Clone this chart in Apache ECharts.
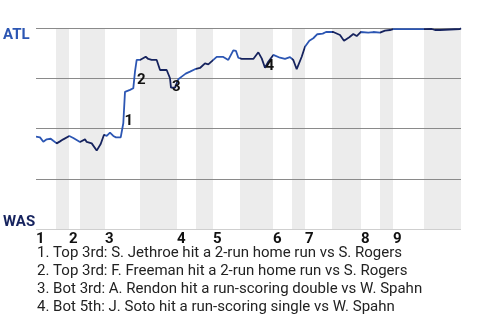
<!DOCTYPE html>
<html><head><meta charset="utf-8">
<script src="https://cdn.jsdelivr.net/npm/echarts@6/dist/echarts.min.js"></script>
<style>html,body{margin:0;padding:0;background:#fff}#c{width:480px;height:320px}</style>
</head><body><div id="c"></div>
<script>
// game progress (% of game) and ATL win probability
const progress = [0,0.94,1.72,2.52,3.46,4.07,4.87,5.65,6.42,7.84,8.78,10.35,11.53,11.93,13.11,14.28,15.22,16.0,16.64,17.41,18.19,18.82,19.93,20.54,20.94,22.12,22.89,23.29,23.69,24.47,25.81,26.42,27.22,28.4,29.18,30.75,31.53,31.76,32.71,33.48,34.28,35.22,36.24,37.41,38.59,39.76,40.54,40.94,42.52,44.07,45.25,46.42,47.06,47.6,48.4,51.13,52.31,53.11,53.88,54.66,55.84,57.41,58.59,59.76,60.54,61.34,62.52,63.29,64.31,65.25,66.19,67.46,68.24,69.95,71.53,72.47,73.72,74.66,75.46,76.4,78.19,79.36,80.94,81.41,82.12,83.29,84.07,91.53,91.93,93.11,93.88,95.06,95.46,99.76,100];
const winProb = [0.460,0.456,0.434,0.446,0.449,0.439,0.426,0.436,0.446,0.463,0.453,0.433,0.446,0.433,0.426,0.390,0.423,0.469,0.463,0.479,0.463,0.456,0.456,0.526,0.682,0.692,0.700,0.783,0.841,0.841,0.857,0.846,0.841,0.841,0.791,0.791,0.750,0.703,0.703,0.745,0.758,0.773,0.783,0.795,0.801,0.824,0.819,0.828,0.856,0.856,0.841,0.889,0.886,0.852,0.846,0.846,0.879,0.849,0.802,0.832,0.866,0.852,0.846,0.855,0.841,0.795,0.857,0.907,0.937,0.949,0.969,0.972,0.980,0.980,0.965,0.937,0.954,0.970,0.960,0.980,0.977,0.980,0.977,0.973,0.987,0.990,0.994,0.994,0.995,0.995,0.990,0.990,0.995,0.995,0.999];
// half-inning start positions (top 1, bot 1, top 2, ...), end of game
const halfInningStarts = [0,4.71,7.76,10.35,16.24,24.47,33.18,37.65,41.65,48.0,55.76,60.24,63.29,69.65,76.47,80.94,84.0,91.29];
const gameEnd = 100;
const inningLabels = ['1','2','3','4','5','6','7','8','9'];
const teamLabels = ['WAS','ATL'];
// key events
const eventMarks = ['1','2','3','4'];
const eventX = [20.6,23.5,31.76,53.76];
const eventY = [0.537,0.741,0.706,0.811];
const eventTexts = [
  '1. Top 3rd: S. Jethroe hit a 2-run home run vs S. Rogers',
  '2. Top 3rd: F. Freeman hit a 2-run home run vs S. Rogers',
  '3. Bot 3rd: A. Rendon hit a run-scoring double vs W. Spahn',
  '4. Bot 5th: J. Soto hit a run-scoring single vs W. Spahn'
];
const ATL_COLOR = '#2c56b3';
const WAS_COLOR = '#16235e';

const bounds = halfInningStarts.concat([gameEnd]);
const bands = [], pieces = [];
for (let i = 0; i < halfInningStarts.length; i++) {
  const a = bounds[i], b = bounds[i+1];
  if (i % 2 === 1) bands.push([{xAxis: a}, {xAxis: b}]);
  pieces.push({gte: a, lt: (i === halfInningStarts.length-1 ? b + 1 : b), color: i % 2 === 0 ? ATL_COLOR : WAS_COLOR});
}
const inningStarts = halfInningStarts.filter((v, i) => i % 2 === 0);

const chart = echarts.init(document.getElementById('c'), null, {renderer: 'canvas'});
chart.setOption({
  animation: false,
  textStyle: {fontFamily: 'Roboto'},
  title: {
    text: eventTexts.join('\n'), left: 37, top: 244, padding: 0,
    textStyle: {fontFamily: 'Roboto', fontSize: 15, fontWeight: 'normal', color: '#222', lineHeight: 18}
  },
  grid: {left: 36, right: 19, top: 28, bottom: 91},
  xAxis: {
    type: 'value', min: 0, max: gameEnd,
    axisLine: {show: false}, splitLine: {show: false},
    axisTick: {show: false},
    axisLabel: {
      customValues: inningStarts,
      formatter: (v) => { const i = inningStarts.indexOf(v); return i >= 0 ? inningLabels[i] : ''; },
      align: 'left', margin: 3, fontSize: 15, fontWeight: 'bold', color: '#111', fontFamily: 'Roboto'
    }
  },
  yAxis: {
    type: 'value', min: 0, max: 1, interval: 0.25, z: 1.5,
    axisLine: {show: false}, axisTick: {show: false},
    splitLine: {lineStyle: {color: ['#cfcfcf','#8a8a8a','#8a8a8a','#8a8a8a','#8a8a8a'], width: 1}},
    axisLabel: {
      margin: 33, align: 'left',
      formatter: (v) => v === 1 ? '{a|' + teamLabels[1] + '}' : (v === 0 ? '{w|' + teamLabels[0] + '}' : ''),
      rich: {
        a: {fontSize: 15, fontWeight: 'bold', color: ATL_COLOR, fontFamily: 'Roboto', padding: [15,0,0,0]},
        w: {fontSize: 15, fontWeight: 'bold', color: WAS_COLOR, fontFamily: 'Roboto', padding: [0,0,13,0]}
      }
    }
  },
  visualMap: {show: false, type: 'piecewise', dimension: 0, seriesIndex: 0, pieces: pieces},
  series: [
    {
      type: 'line', data: progress.map((x, i) => [x, winProb[i]]),
      showSymbol: false, symbol: 'none', lineStyle: {width: 1.8}, z: 2,
      markArea: {silent: true, itemStyle: {color: '#ececec'}, data: bands}
    },
    {
      type: 'scatter', symbolSize: 0, z: 4, silent: true,
      itemStyle: {opacity: 1},
      data: eventX.map((x, i) => ({value: [x, eventY[i]], name: eventMarks[i]})),
      label: {show: true, position: 'right', distance: 1, formatter: (p) => p.name,
        fontSize: 15, fontWeight: 'bold', color: '#111', fontFamily: 'Roboto', opacity: 1}
    }
  ]
});
</script></body></html>
